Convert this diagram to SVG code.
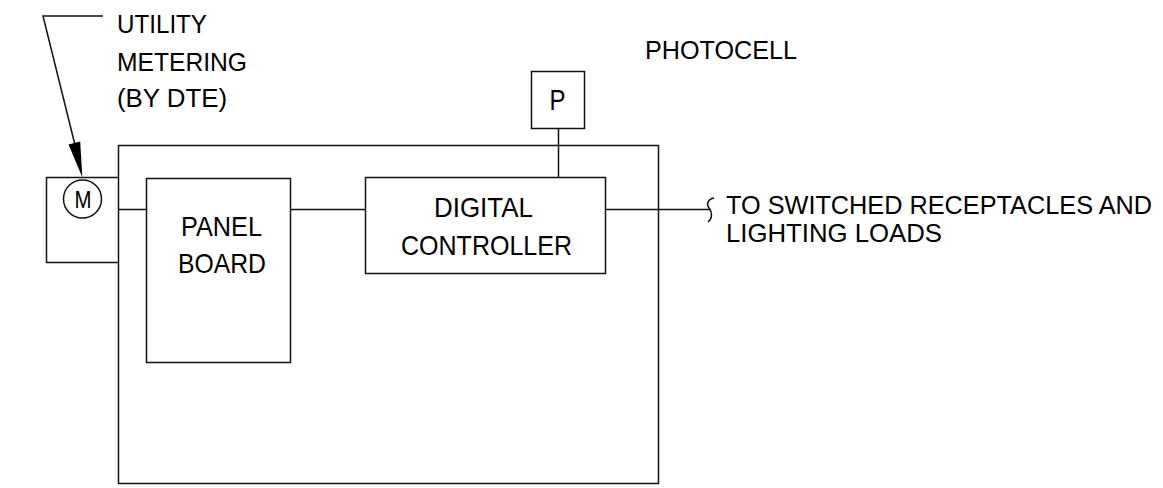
<svg xmlns="http://www.w3.org/2000/svg" width="1163" height="488" viewBox="0 0 1163 488">
<style>
.ln{fill:none;stroke:#111;stroke-width:1.5}
.bx{fill:#fff;stroke:#111;stroke-width:1.5}
text{font-family:"Liberation Sans",Arial,sans-serif;font-size:26.5px;fill:#000}
.c{text-anchor:middle}
.big{font-size:28.5px}
.mid{font-size:28px}
.ld{font-size:25.5px}
</style>
<rect width="1163" height="488" fill="#fff"/>
<g id="enclosure"><rect class="bx" x="118.5" y="145.5" width="540" height="338"/></g>
<g id="meter">
<path class="ln" d="M118.5,177.5 H46.5 V262.5 H118.5"/>
<circle class="ln" cx="82.5" cy="199" r="19"/>
<text class="c" x="83" y="208" style="font-size:24.5px" textLength="17" lengthAdjust="spacingAndGlyphs">M</text>
</g>
<g id="panel-board">
<rect class="bx" x="146.5" y="178.5" width="144" height="184"/>
<text class="c big" x="221.5" y="236" textLength="81" lengthAdjust="spacingAndGlyphs">PANEL</text>
<text class="c big" x="222" y="273" textLength="88" lengthAdjust="spacingAndGlyphs">BOARD</text>
</g>
<g id="digital-controller">
<rect class="bx" x="365.5" y="177.5" width="240" height="96"/>
<text class="c mid" x="483.5" y="217" textLength="99" lengthAdjust="spacingAndGlyphs">DIGITAL</text>
<text class="c mid" x="486.5" y="255" textLength="171" lengthAdjust="spacingAndGlyphs">CONTROLLER</text>
</g>
<g id="photocell">
<rect class="bx" x="531.5" y="71.5" width="53" height="57"/>
<text class="c" x="557.5" y="110" style="font-size:29px" textLength="16" lengthAdjust="spacingAndGlyphs">P</text>
<text x="645" y="59" textLength="152" lengthAdjust="spacingAndGlyphs">PHOTOCELL</text>
</g>
<g id="utility-label">
<text x="117" y="33" textLength="90" lengthAdjust="spacingAndGlyphs">UTILITY</text>
<text x="117" y="71" textLength="130" lengthAdjust="spacingAndGlyphs">METERING</text>
<text x="117" y="107" textLength="110" lengthAdjust="spacingAndGlyphs">(BY DTE)</text>
</g>
<g id="loads-label">
<text class="ld" x="726" y="214" textLength="426" lengthAdjust="spacingAndGlyphs">TO SWITCHED RECEPTACLES AND</text>
<text x="726" y="242" textLength="216" lengthAdjust="spacingAndGlyphs">LIGHTING LOADS</text>
</g>
<g id="connectors">
<path class="ln" d="M118.5,209.5 H146.5"/>
<path class="ln" d="M290.5,209.5 H365.5"/>
<path class="ln" d="M558.5,128.5 V177.5"/>
<path class="ln" d="M605.5,209.5 H711"/>
<path class="ln" d="M714,198 C708,199 706,204 709,208 C712,212 713,218 708,222"/>
<path class="ln" d="M103,16 H43 L75,145"/>
<polygon points="82.3,177.3 80.2,141.6 68.5,144.5" fill="#000"/>
</g>
</svg>
